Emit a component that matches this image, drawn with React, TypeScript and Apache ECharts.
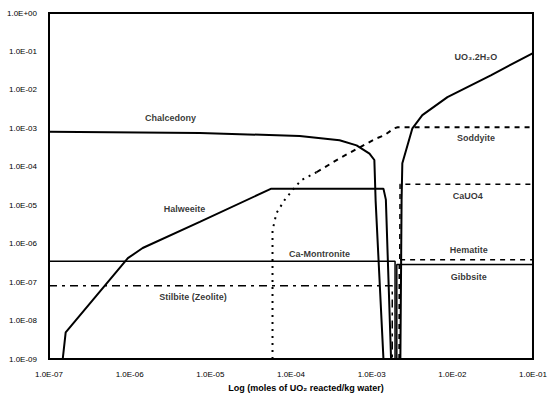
import React, { useEffect, useRef } from "react";
import * as echarts from "echarts";

// [x (moles UO2 reacted/kg water), y (concentration)]
const chalcedony: [number, number][] = [
  [1e-7, 8.1e-4], [7.4e-6, 7.6e-4], [1.28e-4, 6.3e-4], [4.0e-4, 4.9e-4],
  [6.5e-4, 3.6e-4], [9.4e-4, 2.2e-4], [1.08e-3, 1.5e-4], [1.12e-3, 1.3e-5],
  [1.4e-3, 1e-9],
];
const halweeite: [number, number][] = [
  [1.48e-7, 1e-9], [1.61e-7, 4.9e-9], [9.5e-7, 4.2e-7], [1.45e-6, 7.7e-7],
  [7.4e-6, 3.7e-6], [5.7e-5, 2.7e-5], [1.4e-3, 2.7e-5], [1.5e-3, 1.4e-5],
  [1.74e-3, 1e-9],
];
const caMontronite: [number, number][] = [
  [1e-7, 3.5e-7], [1.95e-3, 3.5e-7], [1.95e-3, 1e-9],
];
const stilbite: [number, number][] = [
  [1e-7, 8.1e-8], [1.8e-3, 8.1e-8], [1.8e-3, 1e-9],
];
const gibbsite: [number, number][] = [
  [2.05e-3, 1e-9], [2.05e-3, 2.85e-7], [1e-1, 2.85e-7],
];
const hematite: [number, number][] = [
  [2.2e-3, 1e-9], [2.2e-3, 3.8e-7], [1e-1, 3.8e-7],
];
const caUO4: [number, number][] = [
  [2.2e-3, 1e-9], [2.25e-3, 3.5e-5], [1e-1, 3.5e-5],
];
const soddyiteLow: [number, number][] = [
  [5.9e-5, 1e-9], [5.9e-5, 2.2e-6], [6.6e-5, 6.2e-6], [8.3e-5, 1.35e-5],
  [1.05e-4, 2.5e-5], [1.34e-4, 4.5e-5], [2.07e-4, 7.2e-5],
];
const soddyiteHigh: [number, number][] = [
  [2.07e-4, 7.2e-5], [4.0e-4, 1.66e-4], [1.15e-3, 5.5e-4], [1.44e-3, 6.6e-4],
  [1.9e-3, 1.0e-3], [2.1e-3, 1.07e-3], [1e-1, 1.07e-3],
];
const uo3: [number, number][] = [
  [2.27e-3, 1e-9], [2.35e-3, 1.35e-5], [2.4e-3, 1.24e-4], [3.2e-3, 1.0e-3],
  [4.25e-3, 2.2e-3], [8.7e-3, 6.5e-3], [3.0e-2, 2.4e-2], [1e-1, 9.1e-2],
];

const labelNames = [
  "Chalcedony", "Halweeite", "Ca-Montronite", "Stilbite (Zeolite)",
  "UO\u2083.2H\u2082O", "Soddyite", "CaUO4", "Hematite", "Gibbsite",
];
const labelX = [3.2e-6, 4.8e-6, 2.26e-4, 6.1e-6, 1.96e-2, 1.96e-2, 1.55e-2, 1.6e-2, 1.6e-2];
const labelY = [1.85e-3, 8.0e-6, 5.5e-7, 4.1e-8, 7.3e-2, 5.5e-4, 1.7e-5, 6.7e-7, 1.33e-7];

const xTitle = "Log (moles of UO\u2082 reacted/kg water)";

function fmt(v: number): string {
  const e = Math.round(Math.log10(v));
  const sign = e < 0 ? "-" : "+";
  const a = Math.abs(e);
  return "1.0E" + sign + (a < 10 ? "0" + a : "" + a);
}

export default function App() {
  const ref = useRef<HTMLDivElement>(null);
  useEffect(() => {
    if (!ref.current) return;
    const chart = echarts.init(ref.current, null, { renderer: "svg" });
    const font = "Liberation Sans, Arial, sans-serif";
    const line = (name: string, data: [number, number][], w: number, type: any) => ({
      name, type: "line", data, symbol: "none", silent: true,
      lineStyle: { color: "#000", width: w, type },
    });
    chart.setOption({
      animation: false,
      backgroundColor: "#fff",
      grid: {
        left: 49, right: 16, top: 13, bottom: 37, show: true,
        borderColor: "#000", borderWidth: 2, backgroundColor: "transparent",
      },
      xAxis: {
        type: "log", logBase: 10, min: 1e-7, max: 1e-1, interval: 1,
        axisLine: { show: false }, axisTick: { show: false },
        splitLine: { show: false },
        axisLabel: { formatter: fmt, color: "#000", fontSize: 8, fontFamily: font, margin: 11 },
      },
      yAxis: {
        type: "log", logBase: 10, min: 1e-9, max: 1, interval: 1,
        axisLine: { show: false }, axisTick: { show: false },
        splitLine: { show: false },
        axisLabel: { formatter: fmt, color: "#000", fontSize: 8, fontFamily: font, margin: 12 },
      },
      series: [
        line("Chalcedony", chalcedony, 2, "solid"),
        line("Halweeite", halweeite, 2, "solid"),
        line("Ca-Montronite", caMontronite, 1.5, "solid"),
        line("Stilbite", stilbite, 1.5, [8, 5, 3, 5]),
        line("Gibbsite", gibbsite, 1.5, "solid"),
        line("Hematite", hematite, 1.5, [5, 5]),
        line("CaUO4", caUO4, 1.5, [5, 5]),
        line("Soddyite", soddyiteLow, 2, [2, 5]),
        line("Soddyite", soddyiteHigh, 2, [5, 5]),
        line("UO3.2H2O", uo3, 2, "solid"),
        {
          type: "scatter", symbolSize: 0, silent: true,
          data: labelNames.map((n, i) => ({ name: n, value: [labelX[i], labelY[i]] })),
          label: {
            show: true, position: "inside", formatter: "{b}", color: "#000",
            fontSize: 9, fontWeight: "bold", fontFamily: font,
          },
        },
      ],
      graphic: [
        {
          type: "text", x: 306, y: 388,
          style: {
            text: xTitle, fill: "#000", fontSize: 9, fontWeight: "bold",
            fontFamily: font, align: "center", verticalAlign: "middle",
          },
        },
      ],
    });
    return () => chart.dispose();
  }, []);
  return (
    <div
      ref={ref}
      style={{ position: "fixed", left: 0, top: 0, width: 550, height: 396, background: "#fff" }}
    />
  );
}
